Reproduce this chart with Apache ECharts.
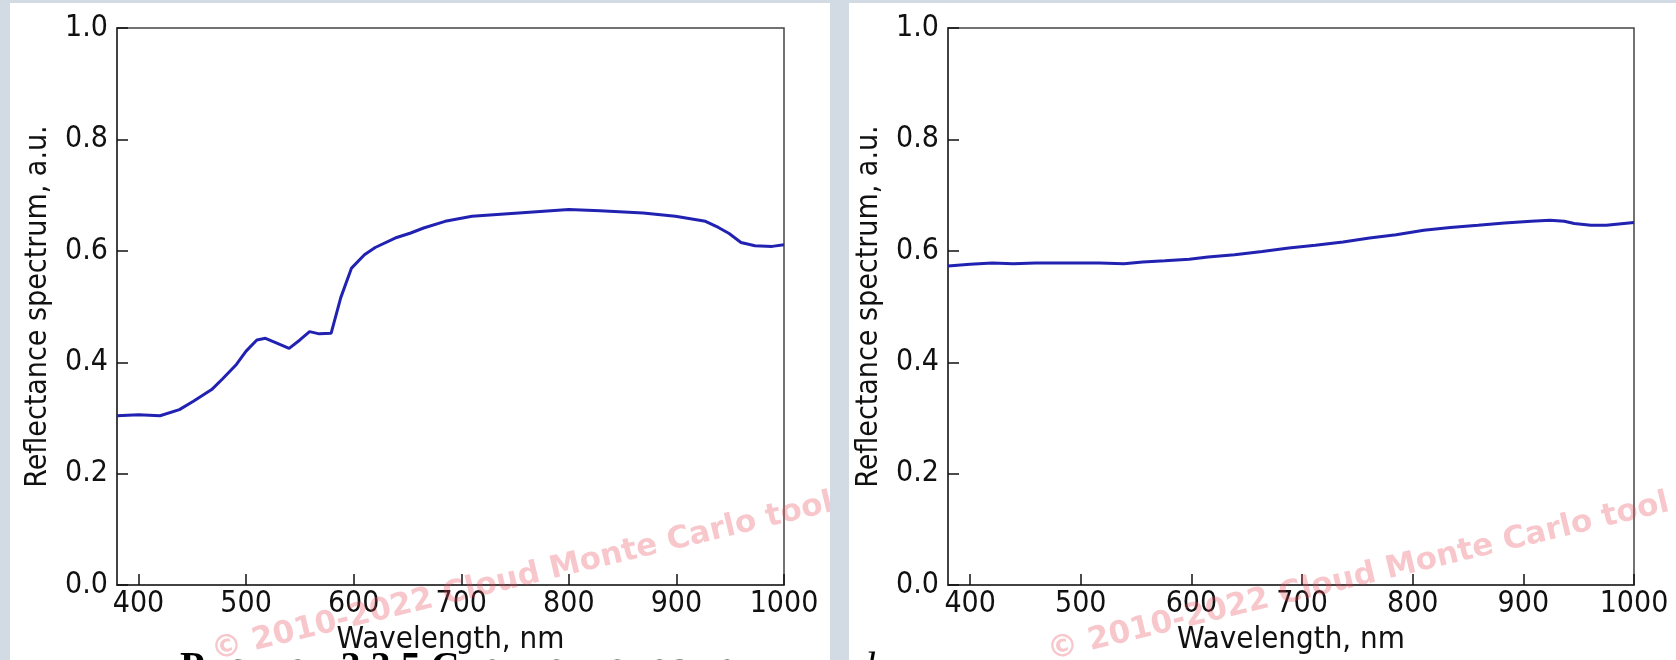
<!DOCTYPE html>
<html>
<head>
<meta charset="utf-8">
<script src="https://cdn.jsdelivr.net/npm/echarts@6/dist/echarts.min.js"></script>
<style>
  html, body { margin: 0; padding: 0; background: #fff; }
  #chart { width: 1676px; height: 660px; }
</style>
</head>
<body>
<div id="chart"></div>
<script>
// left panel spectrum
var wavelengthsA = [380, 400, 420, 438, 451, 468, 478, 491, 500, 510, 518, 528, 540, 550, 559, 568, 579, 588, 598, 610, 620, 640, 653, 665, 685, 710, 740, 770, 800, 829, 869, 899, 927, 939, 949, 960, 973, 989, 1000];
var reflectanceA = [0.304, 0.306, 0.304, 0.315, 0.330, 0.351, 0.370, 0.396, 0.420, 0.440, 0.443, 0.435, 0.425, 0.440, 0.455, 0.451, 0.452, 0.516, 0.569, 0.593, 0.606, 0.624, 0.632, 0.641, 0.653, 0.662, 0.666, 0.670, 0.674, 0.672, 0.668, 0.662, 0.653, 0.642, 0.631, 0.615, 0.609, 0.608, 0.611];

// right panel spectrum
var wavelengthsB = [380, 400, 420, 439, 459, 478, 498, 517, 539, 556, 576, 598, 615, 639, 664, 688, 712, 737, 761, 785, 810, 834, 859, 883, 907, 924, 937, 946, 961, 975, 1000];
var reflectanceB = [0.573, 0.576, 0.578, 0.577, 0.578, 0.578, 0.578, 0.578, 0.577, 0.580, 0.582, 0.585, 0.589, 0.593, 0.599, 0.605, 0.610, 0.616, 0.623, 0.629, 0.637, 0.642, 0.646, 0.650, 0.653, 0.655, 0.653, 0.649, 0.646, 0.646, 0.651];

var xName = 'Wavelength, nm';
var yName = 'Reflectance spectrum, a.u.';
var watermark = '\u00a9 2010-2022 Cloud Monte Carlo tool';
var caption = 'Рисунок 3.3.5 Спектры отражения';

var font = '"DejaVu Sans Condensed", "DejaVu Sans"';
var lineColor = '#2222b2';

function pairs(xs, ys) {
  return xs.map(function (x, i) { return [x, ys[i]]; });
}

function xAxis(idx) {
  return {
    type: 'value', gridIndex: idx,
    min: 380, max: 1000, splitNumber: 6, minInterval: 100, maxInterval: 100,
    name: xName, nameLocation: 'middle', nameGap: 33,
    nameTextStyle: { fontFamily: font, fontSize: 31, color: '#111' },
    axisLine: { lineStyle: { color: '#333', width: 1.5 } },
    axisTick: { inside: true, length: 11, lineStyle: { color: '#111', width: 1.5 } },
    axisLabel: {
      showMinLabel: false, fontFamily: font, fontSize: 30, color: '#111', margin: 4,
      formatter: function (v) { return String(v); }
    },
    splitLine: { show: false }
  };
}

function yAxis(idx) {
  return {
    type: 'value', gridIndex: idx,
    min: 0, max: 1, interval: 0.2,
    name: yName, nameLocation: 'middle', nameGap: 64,
    nameTextStyle: { fontFamily: font, fontSize: 30, color: '#111' },
    axisLine: { lineStyle: { color: '#333', width: 1.5 } },
    axisTick: { inside: true, length: 11, lineStyle: { color: '#111', width: 1.5 } },
    axisLabel: {
      showMinLabel: true, showMaxLabel: true,
      fontFamily: font, fontSize: 30, color: '#111', margin: 9,
      formatter: function (v) { return v.toFixed(1); }
    },
    splitLine: { show: false }
  };
}

function mark(x) {
  return {
    type: 'text', x: x, y: 652, rotation: 0.236, z: 50,
    style: { text: watermark, font: 'bold 31px "DejaVu Sans"', fill: 'rgba(228,70,85,0.3)', align: 'left', verticalAlign: 'middle' }
  };
}

var chart = echarts.init(document.getElementById('chart'));
chart.setOption({
  backgroundColor: '#fff',
  animation: false,
  grid: [
    { left: 117, top: 28, width: 667, height: 559, show: true, borderColor: '#444', borderWidth: 1.5 },
    { left: 948, top: 28, width: 686, height: 559, show: true, borderColor: '#444', borderWidth: 1.5 }
  ],
  xAxis: [xAxis(0), xAxis(1)],
  yAxis: [yAxis(0), yAxis(1)],
  series: [
    { type: 'line', xAxisIndex: 0, yAxisIndex: 0, data: pairs(wavelengthsA, reflectanceA),
      showSymbol: false, lineStyle: { color: lineColor, width: 3 } },
    { type: 'line', xAxisIndex: 1, yAxisIndex: 1, data: pairs(wavelengthsB, reflectanceB),
      showSymbol: false, lineStyle: { color: lineColor, width: 3 } }
  ],
  graphic: [
    { type: 'text', x: 180, y: 649, z: 1,
      style: { text: caption, font: 'bold 40px "Liberation Serif"', fill: '#000', align: 'left', verticalAlign: 'top' } },
    { type: 'text', x: 855, y: 649, z: 1,
      style: { text: 'd', font: 'italic 40px "Liberation Serif"', fill: '#000', align: 'left', verticalAlign: 'top' } },
    mark(212),
    mark(1048),
    { type: 'rect', z: 100, shape: { x: 0, y: 0, width: 10, height: 660 }, style: { fill: '#d2dae3' } },
    { type: 'rect', z: 100, shape: { x: 0, y: 0, width: 1676, height: 3 }, style: { fill: '#d2dae3' } },
    { type: 'rect', z: 100, shape: { x: 830, y: 0, width: 19, height: 660 }, style: { fill: '#d2dae3' } }
  ]
});
</script>
</body>
</html>
